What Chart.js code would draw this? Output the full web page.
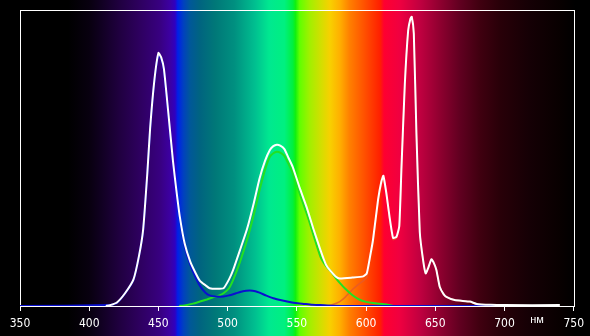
<!DOCTYPE html>
<html>
<head>
<meta charset="utf-8">
<script src="https://cdn.jsdelivr.net/npm/chart.js@4.4.0/dist/chart.umd.min.js"></script>
<style>
  html, body { margin: 0; padding: 0; background: #000; }
  #spectrum { display: block; }
</style>
</head>
<body>
<canvas id="spectrum" width="590" height="336"></canvas>
<script>
// axis
const xTicks = [350, 400, 450, 500, 550, 600, 650, 700, 750];
const unitLabel = 'нм';

// total spectrum (white)
const whiteNm = [412, 415, 420, 426, 432, 436, 439, 442, 444, 447, 450, 452, 454, 457, 460.5, 463, 465.5, 469, 473, 477, 480, 484, 487, 492, 497, 501, 504, 509, 514, 519, 523, 527, 530.5, 533, 535.5, 538, 541, 544, 547, 552, 557, 562, 567, 571, 574, 578, 581, 590, 598, 600.5, 603, 605, 608.7, 611, 612.5, 614.7, 617, 619.5, 622, 624, 625.6, 628, 630.4, 632, 633, 634.5, 636.4, 638.8, 641.2, 643.1, 645, 647.2, 649, 650.8, 653.2, 656, 658, 664, 675, 680, 690, 700, 740];
const whiteVal = [0, 0.003, 0.012, 0.044, 0.09, 0.17, 0.26, 0.45, 0.6, 0.76, 0.855, 0.84, 0.8, 0.66, 0.49, 0.39, 0.3, 0.21, 0.15, 0.11, 0.085, 0.07, 0.06, 0.058, 0.06, 0.09, 0.122, 0.19, 0.26, 0.35, 0.43, 0.49, 0.527, 0.54, 0.545, 0.542, 0.53, 0.5, 0.47, 0.4, 0.335, 0.26, 0.19, 0.14, 0.12, 0.1, 0.093, 0.096, 0.1, 0.11, 0.17, 0.223, 0.36, 0.42, 0.44, 0.38, 0.3, 0.23, 0.234, 0.27, 0.47, 0.75, 0.93, 0.97, 0.977, 0.92, 0.58, 0.25, 0.155, 0.11, 0.13, 0.158, 0.145, 0.122, 0.065, 0.04, 0.031, 0.02, 0.015, 0.007, 0.004, 0.003, 0.003];

// blue component
const blueNm = [350, 415, 420, 426, 432, 436, 439, 442, 444, 447, 450, 452, 454, 457, 460.5, 463, 465.5, 469, 473, 477, 480, 484, 487, 492, 497, 501, 506, 511, 516, 520, 523, 528, 533, 538, 543, 549, 555, 561, 567, 575, 590, 700];
const blueVal = [0, 0.003, 0.01, 0.043, 0.088, 0.17, 0.255, 0.45, 0.595, 0.755, 0.85, 0.835, 0.795, 0.655, 0.485, 0.385, 0.295, 0.2, 0.14, 0.095, 0.068, 0.045, 0.036, 0.032, 0.032, 0.036, 0.043, 0.05, 0.052, 0.05, 0.045, 0.035, 0.026, 0.02, 0.015, 0.01, 0.007, 0.004, 0.003, 0.001, 0, 0];

// green component
const greenNm = [465, 470, 475, 480, 485, 490, 494, 497, 501, 504, 509, 514, 519, 523, 527, 530.5, 533, 535.5, 538, 541, 544, 547, 552, 557, 562, 567, 571, 574, 578, 581, 585, 590, 595, 600, 605, 610, 615, 620];
const greenVal = [0, 0.003, 0.008, 0.015, 0.022, 0.03, 0.036, 0.043, 0.06, 0.088, 0.15, 0.223, 0.31, 0.39, 0.46, 0.504, 0.516, 0.521, 0.518, 0.507, 0.48, 0.449, 0.38, 0.314, 0.24, 0.167, 0.135, 0.12, 0.095, 0.078, 0.058, 0.037, 0.022, 0.014, 0.01, 0.008, 0.005, 0];

// red component
const redNm = [572, 576, 581, 585, 590, 595, 598, 600.5, 603, 605, 608.7, 611, 612.5, 614.7, 617, 619.5, 622, 624, 625.6, 628, 630.4, 632, 633, 634.5, 636.4, 638.8, 641.2, 643.1, 645, 647.2, 649, 650.8, 653.2, 656, 658, 664, 675, 680, 690, 700];
const redVal = [0, 0.005, 0.015, 0.03, 0.055, 0.075, 0.085, 0.096, 0.16, 0.213, 0.35, 0.41, 0.433, 0.375, 0.295, 0.225, 0.23, 0.265, 0.468, 0.75, 0.93, 0.97, 0.977, 0.92, 0.58, 0.25, 0.155, 0.11, 0.13, 0.158, 0.145, 0.122, 0.065, 0.04, 0.031, 0.02, 0.014, 0.006, 0.003, 0.001];

// background rainbow, wavelength -> colour
const rainbow = [
  [350, '#000000'], [385, '#000000'], [400, '#08000f'], [408, '#100020'], [422, '#200040'], [437, '#2e0060'],
  [451, '#380080'], [458, '#3c00a0'], [462, '#3000c0'], [464, '#0020e8'], [468, '#0040c0'],
  [473, '#005898'], [480, '#006480'], [491, '#007878'], [505, '#009080'], [520, '#00c090'],
  [530, '#00e890'], [541, '#00f080'], [547, '#00f040'], [549, '#10f010'], [552, '#60ff00'],
  [559, '#a0f000'], [567, '#d0e000'], [574, '#f8d000'], [581, '#ffb000'], [588, '#ff8000'],
  [599, '#ff5000'], [610, '#ff2000'], [613, '#ff0030'], [624, '#f00040'], [639, '#c00040'],
  [653, '#900030'], [668, '#600020'], [682, '#400010'], [697, '#280008'], [718, '#150005'],
  [740, '#080000'], [751, '#000000']
];

function pts(xs, ys) {
  return xs.map((x, i) => ({ x: x, y: ys[i] }));
}

const backdrop = {
  id: 'backdrop',
  beforeDraw(chart) {
    const ctx = chart.ctx, xs = chart.scales.x;
    const w = chart.width, h = chart.height;
    const g = ctx.createLinearGradient(0, 0, w, 0);
    rainbow.forEach(([nm, c]) => {
      const p = xs.getPixelForValue(nm) / w;
      if (p >= 0 && p <= 1) g.addColorStop(p, c);
    });
    ctx.save();
    ctx.fillStyle = '#000';
    ctx.fillRect(0, 0, w, h);
    ctx.fillStyle = g;
    ctx.fillRect(0, 0, w, h);
    ctx.restore();
  },
  beforeDatasetsDraw(chart) {
    const ctx = chart.ctx, a = chart.chartArea;
    ctx.save();
    ctx.strokeStyle = '#fff';
    ctx.lineWidth = 1;
    ctx.strokeRect(Math.round(a.left) + 0.5, Math.round(a.top) + 0.5,
      Math.round(a.right - a.left), Math.round(a.bottom - a.top));
    ctx.restore();
  },
  afterDraw(chart) {
    const ctx = chart.ctx, xs = chart.scales.x, a = chart.chartArea;
    ctx.save();
    ctx.fillStyle = '#fff';
    ctx.font = '11px "Liberation Sans", Arial, sans-serif';
    ctx.textAlign = 'center';
    ctx.textBaseline = 'alphabetic';
    ctx.fillText(unitLabel, xs.getPixelForValue(723.5), a.bottom + 17);
    ctx.restore();
  }
};

new Chart(document.getElementById('spectrum'), {
  type: 'line',
  data: {
    datasets: [
      { label: 'total', data: pts(whiteNm, whiteVal), borderColor: '#ffffff', borderWidth: 2 },
      { label: 'blue', data: pts(blueNm, blueVal), borderColor: '#0a10d0', borderWidth: 2 },
      { label: 'green', data: pts(greenNm, greenVal), borderColor: '#22e022', borderWidth: 2 },
      { label: 'red', data: pts(redNm, redVal), borderColor: 'rgba(230,90,40,0.8)', borderWidth: 1.5 }
    ]
  },
  options: {
    responsive: false,
    animation: false,
    devicePixelRatio: 1,
    layout: { padding: { left: 20, top: 10, right: 16, bottom: 0 } },
    elements: {
      point: { radius: 0 },
      line: { tension: 0.15, fill: false }
    },
    plugins: { legend: { display: false }, tooltip: { enabled: false } },
    scales: {
      x: {
        type: 'linear',
        min: 350,
        max: 750,
        afterBuildTicks(s) { s.ticks = xTicks.map(v => ({ value: v })); },
        afterFit(s) { s.height = 30; },
        border: { display: false },
        grid: { display: true, drawOnChartArea: false, drawTicks: true, tickLength: 5, color: '#ffffff', lineWidth: 1 },
        ticks: {
          color: '#ffffff',
          padding: 6,
          maxRotation: 0,
          autoSkip: false,
          font: { family: '"Liberation Sans Narrow", "DejaVu Sans Condensed", Arial, sans-serif', size: 12 }
        }
      },
      y: { display: false, min: 0, max: 1 }
    }
  },
  plugins: [backdrop]
});
</script>
</body>
</html>
